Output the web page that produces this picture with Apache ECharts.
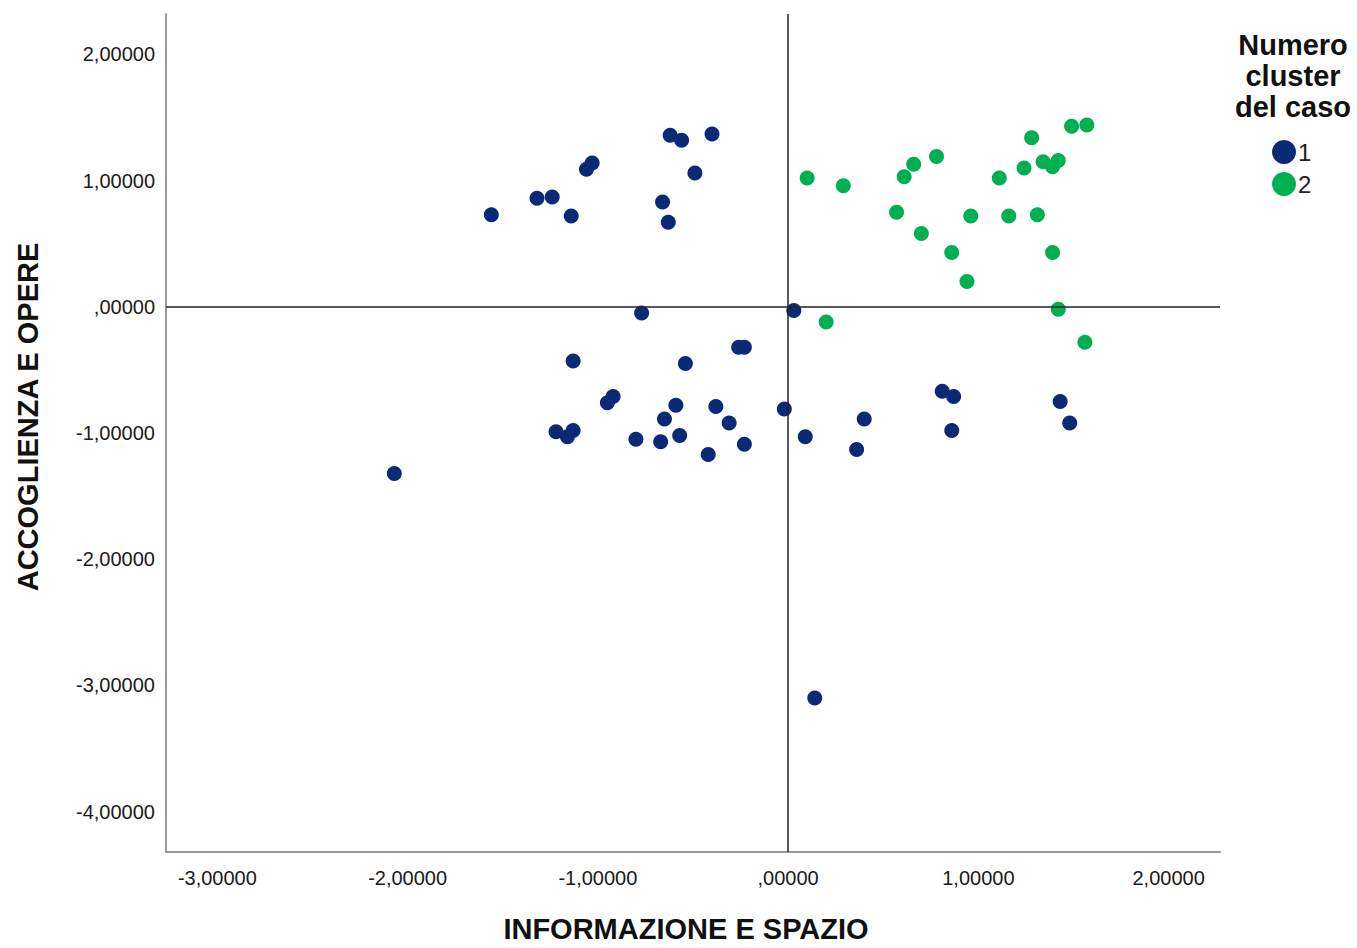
<!DOCTYPE html>
<html>
<head>
<meta charset="utf-8">
<script src="https://cdn.jsdelivr.net/npm/echarts@6/dist/echarts.min.js"></script>
<style>
  html, body { margin: 0; padding: 0; background: #fff; }
  #chart { width: 1357px; height: 948px; }
</style>
</head>
<body>
<div id="chart"></div>
<script>
// cluster 1 (blue)
const cluster1X = [-1.56, -1.32, -1.24, -1.14, -1.06, -1.03, -0.66, -0.63, -0.62, -0.56, -0.40, -0.49,
  -0.77, 0.03, -1.13, -0.54, -0.26, -0.23, -0.95, -0.92, -0.59, -0.38, -0.65, -0.31,
  -1.22, -1.13, -1.16, -0.80, -0.67, -0.57, -0.23, -0.42, -2.07, -0.02, 0.09, 0.40,
  0.36, 0.81, 0.87, 0.86, 1.43, 1.48, 0.14];
const cluster1Y = [0.73, 0.86, 0.87, 0.72, 1.09, 1.14, 0.83, 0.67, 1.36, 1.32, 1.37, 1.06,
  -0.05, -0.03, -0.43, -0.45, -0.32, -0.32, -0.76, -0.71, -0.78, -0.79, -0.89, -0.92,
  -0.99, -0.98, -1.03, -1.05, -1.07, -1.02, -1.09, -1.17, -1.32, -0.81, -1.03, -0.89,
  -1.13, -0.67, -0.71, -0.98, -0.75, -0.92, -3.10];

// cluster 2 (green)
const cluster2X = [0.10, 0.29, 0.66, 0.61, 0.78, 0.57, 0.70, 0.86, 0.94, 0.96, 1.16, 1.11,
  1.24, 1.28, 1.31, 1.34, 1.39, 1.42, 1.49, 1.57, 1.39, 1.42, 0.20, 1.56];
const cluster2Y = [1.02, 0.96, 1.13, 1.03, 1.19, 0.75, 0.58, 0.43, 0.20, 0.72, 0.72, 1.02,
  1.10, 1.34, 0.73, 1.15, 1.11, 1.16, 1.43, 1.44, 0.43, -0.02, -0.12, -0.28];

const legendNames = ['1', '2'];
const xRange = [-3.27, 2.27];
const yRange = [-4.32, 2.32];

const zip = (xs, ys) => xs.map((x, i) => [x, ys[i]]);
const fmt = v => {
  const r = Math.round(v * 100) / 100;
  if (Math.abs(r - Math.round(r)) > 1e-6) return '';
  const n = Math.round(r);
  if (n === 0) return ',00000';
  return n.toFixed(5).replace('.', ',');
};

const chart = echarts.init(document.getElementById('chart'), null, { renderer: 'svg' });

const tickLabel = { fontFamily: 'Liberation Sans', fontSize: 20, color: '#1a1a1a', formatter: fmt };

chart.setOption({
  animation: false,
  grid: { left: 166, right: 137, top: 14, bottom: 92 },
  xAxis: {
    type: 'value', min: xRange[0], max: xRange[1], interval: 0.01,
    axisLine: { onZero: false, lineStyle: { color: '#999', width: 2 } },
    axisTick: { show: false }, splitLine: { show: false },
    axisLabel: Object.assign({ margin: 16 }, tickLabel),
    name: 'INFORMAZIONE E SPAZIO', nameLocation: 'middle', nameGap: 62,
    nameTextStyle: { fontFamily: 'Liberation Sans', fontWeight: 'bold', fontSize: 29, color: '#111', padding: [0, 14, 0, 0] }
  },
  yAxis: {
    type: 'value', min: yRange[0], max: yRange[1], interval: 0.01,
    axisLine: { onZero: false, lineStyle: { color: '#999', width: 2 } },
    axisTick: { show: false }, splitLine: { show: false },
    axisLabel: Object.assign({ margin: 11, padding: [6, 0, 0, 0] }, tickLabel)
  },
  legend: {
    orient: 'vertical', left: 1267, top: 135,
    itemWidth: 24, itemHeight: 24, itemGap: 8, icon: 'circle',
    data: legendNames,
    textStyle: { fontFamily: 'Liberation Sans', fontSize: 24, color: '#222', padding: [2, 0, 0, -3] }
  },
  graphic: [
    {
      type: 'text', x: 1293, y: 29,
      style: {
        text: 'Numero\ncluster\ndel caso', align: 'center', verticalAlign: 'top',
        font: 'bold 29px "Liberation Sans"', lineHeight: 31, fill: '#111'
      }
    },
    {
      type: 'text', x: 28, y: 417, rotation: Math.PI / 2,
      style: {
        text: 'ACCOGLIENZA E OPERE', align: 'center', verticalAlign: 'middle',
        font: 'bold 29px "Liberation Sans"', fill: '#111'
      }
    }
  ],
  series: [
    {
      name: legendNames[0], type: 'scatter', symbolSize: 15,
      itemStyle: { color: '#0b2a76', opacity: 1 },
      data: zip(cluster1X, cluster1Y),
      markLine: {
        silent: true, symbol: 'none', label: { show: false },
        lineStyle: { color: '#222', width: 1.5, type: 'solid' },
        data: [{ xAxis: 0 }, { yAxis: 0 }]
      }
    },
    {
      name: legendNames[1], type: 'scatter', symbolSize: 15,
      itemStyle: { color: '#00b050', opacity: 1 },
      data: zip(cluster2X, cluster2Y)
    }
  ]
});
</script>
</body>
</html>
